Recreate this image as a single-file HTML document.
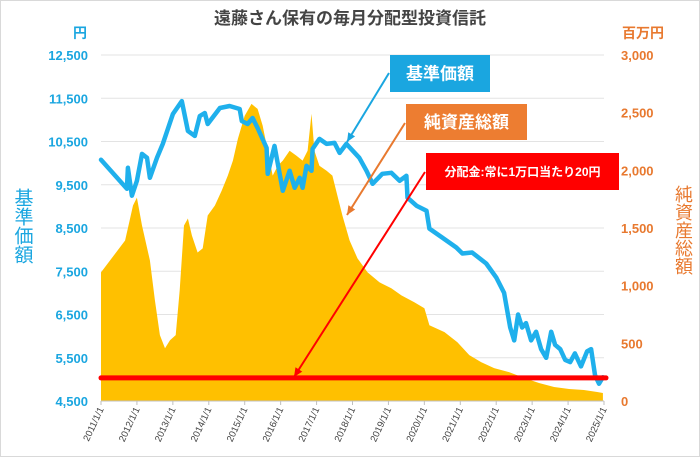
<!DOCTYPE html>
<html><head><meta charset="utf-8">
<style>
html,body{margin:0;padding:0;background:#fff;}
svg{display:block;font-family:"Liberation Sans","Noto Sans CJK JP",sans-serif;}
</style></head>
<body>
<svg id="chart" width="700" height="457" viewBox="0 0 700 457" xmlns="http://www.w3.org/2000/svg">
<rect x="0.5" y="0.5" width="699" height="456" fill="#fff" stroke="#d9d9d9"/>
<text x="350" y="24" text-anchor="middle" font-size="17" font-weight="bold" fill="#444">遠藤さん保有の毎月分配型投資信託</text>
<text x="80" y="38" text-anchor="middle" font-size="14" font-weight="bold" fill="#1aa6e0">円</text>
<text x="643" y="38" text-anchor="middle" font-size="14" font-weight="bold" fill="#e8792f">百万円</text>
<text x="22" y="188" font-size="19" fill="#1aa6e0" style="writing-mode:tb">基準価額</text>
<text x="683" y="185" font-size="18" fill="#e8792f" style="writing-mode:tb">純資産総額</text>
<g id="grid"></g><g id="area"></g><g id="line"></g><g id="axes"></g><g id="annot"></g>
</svg>
<script>
const leftTicks=[4500,5500,6500,7500,8500,9500,10500,11500,12500];
const rightTicks=[0,500,1000,1500,2000,2500,3000];
const years=[2011,2012,2013,2014,2015,2016,2017,2018,2019,2020,2021,2022,2023,2024,2025];
const navT=[2011.0,2011.72,2011.75,2011.86,2012.0,2012.14,2012.28,2012.36,2012.56,2012.72,2013.0,2013.25,2013.42,2013.61,2013.75,2013.89,2013.97,2014.31,2014.58,2014.86,2014.92,2015.08,2015.22,2015.36,2015.61,2015.64,2015.83,2016.06,2016.25,2016.39,2016.53,2016.61,2016.72,2016.86,2016.89,2017.08,2017.28,2017.5,2017.64,2017.83,2018.19,2018.39,2018.56,2018.83,2019.08,2019.31,2019.5,2019.53,2019.78,2020.06,2020.14,2020.5,2020.89,2021.06,2021.33,2021.72,2022.0,2022.22,2022.39,2022.5,2022.61,2022.72,2022.83,2022.97,2023.11,2023.25,2023.39,2023.53,2023.64,2023.78,2023.92,2024.06,2024.19,2024.36,2024.53,2024.64,2024.75,2024.86,2024.97];
const navV=[10076,9407,9891,9246,9592,10214,10122,9661,10122,10444,11135,11435,10744,10629,11089,11159,10905,11274,11320,11251,10974,10905,11043,10813,10352,9753,10398,9361,9822,9430,9661,9430,9937,9822,10329,10560,10444,10467,10237,10444,10122,9822,9523,9753,9776,9592,9707,9200,9016,8900,8486,8279,8048,7910,7933,7680,7357,7000,6200,5900,6500,6200,6300,5900,6100,5700,5500,6100,5800,5700,5450,5400,5600,5300,5650,5700,5100,4900,5050];
const aumT=[2011.0,2011.67,2011.89,2012.0,2012.14,2012.36,2012.5,2012.64,2012.78,2012.92,2013.08,2013.19,2013.31,2013.42,2013.53,2013.69,2013.83,2013.97,2014.17,2014.36,2014.53,2014.67,2014.81,2015.0,2015.19,2015.36,2015.5,2015.64,2015.78,2015.92,2016.06,2016.25,2016.44,2016.61,2016.75,2016.86,2016.94,2017.08,2017.28,2017.44,2017.58,2017.72,2017.92,2018.14,2018.42,2018.75,2019.08,2019.36,2019.72,2020.0,2020.14,2020.56,2020.92,2021.25,2021.58,2021.94,2022.36,2022.78,2023.19,2023.61,2024.03,2024.44,2024.81,2024.97];
const aumV=[1115,1392,1695,1764,1522,1219,873,571,458,527,571,960,1522,1582,1435,1288,1323,1608,1695,1824,1954,2084,2274,2473,2576,2533,2386,2170,1954,2040,2084,2170,2127,2084,2170,2490,2170,2040,1997,1954,1781,1608,1392,1236,1115,1029,977,916,856,804,657,597,510,398,337,285,251,199,156,121,104,95,78,69];
const distLevel=[200];
const NS="http://www.w3.org/2000/svg";
const X0=101,X1=604,Y0=401,Y1=55;
function xs(t){return X0+(t-2011)*(X1-X0)/14;}
function yL(v){return Y0-(v-4500)*(Y0-Y1)/8000;}
function yR(m){return Y0-m*(Y0-Y1)/3000;}
function mk(tag,attrs,parent){const e=document.createElementNS(NS,tag);for(const k in attrs)e.setAttribute(k,attrs[k]);document.getElementById(parent).appendChild(e);return e;}
leftTicks.forEach(v=>{
  const g=mk('line',{x1:X0,x2:X1,y1:yL(v),y2:yL(v),stroke:'#e3e3e3','stroke-width':1},'grid');
  
  
  const t=mk('text',{x:88,y:yL(v)+5,'text-anchor':'end','font-size':13,'font-weight':'bold',fill:'#1aa6e0'},'axes');
  t.textContent=v.toLocaleString('en-US');
  
  
});
rightTicks.forEach(v=>{
  const t=mk('text',{x:621,y:yR(v)+5,'font-size':13,'font-weight':'bold',fill:'#e8792f'},'axes');
  t.textContent=v.toLocaleString('en-US');
  
  
});
years.forEach(y=>{
  const x=xs(y);
  const tk=mk('line',{x1:x,x2:x,y1:Y0,y2:Y0+4,stroke:'#bfbfbf'},'axes');
  
  
  const t=mk('text',{x:x+3,y:Y0+8,'text-anchor':'end','font-size':9.5,fill:'#444',transform:`rotate(-65 ${x+3} ${Y0+8})`},'axes');
  t.textContent=y+'/1/1';
  
  
});
let d='M'+xs(aumT[0])+','+Y0;
aumT.forEach((t,i)=>{d+=' L'+xs(t).toFixed(1)+','+yR(aumV[i]).toFixed(1);});
d+=' L'+xs(aumT[aumT.length-1])+','+Y0+' Z';
const area=mk('path',{d:d,fill:'#ffc000'},'area');


const axl=mk('line',{x1:X0,x2:X1,y1:Y0,y2:Y0,stroke:'#bfbfbf'},'axes');


const pts=navT.map((t,i)=>xs(t).toFixed(1)+','+yL(navV[i]).toFixed(1)).join(' ');
const line=mk('polyline',{points:pts,fill:'none',stroke:'#1fb0ec','stroke-width':4.5,'stroke-linejoin':'round','stroke-linecap':'round'},'line');


const dl=mk('line',{x1:X0,x2:X1+2,y1:yR(distLevel[0]),y2:yR(distLevel[0]),stroke:'#ff0000','stroke-width':5,'stroke-linecap':'round'},'annot');


function arrow(x1,y1,x2,y2,c,name){
  const a=mk('line',{x1:x1,y1:y1,x2:x2,y2:y2,stroke:c,'stroke-width':2},'annot');
  
  
  const ang=Math.atan2(y2-y1,x2-x1),L=9,w=4;
  const bx=x2-L*Math.cos(ang),by=y2-L*Math.sin(ang);
  const p=`${x2},${y2} ${bx+w*Math.sin(ang)},${by-w*Math.cos(ang)} ${bx-w*Math.sin(ang)},${by+w*Math.cos(ang)}`;
  const h=mk('polygon',{points:p,fill:c},'annot');
  
  
}
arrow(389,73,347,142,'#1aa6e0','nav-arrow');
arrow(405,123,347,215,'#e8792f','aum-arrow');
arrow(425,172,294,377,'#ff0000','distribution-arrow');
function box(x,y,w,h,c,txt,fs,name){
  const r=mk('rect',{x:x,y:y,width:w,height:h,fill:c},'annot');
  
  
  const t=mk('text',{x:x+w/2,y:y+h/2+fs*0.36,'text-anchor':'middle','font-size':fs,'font-weight':'bold',fill:'#fff'},'annot');
  t.textContent=txt;
  
  
}
box(390,55,100,37,'#1aa6e0','基準価額',17,'nav-callout');
box(406,104,121,36,'#ed7d31','純資産総額',17,'aum-callout');
box(426,153,193,37,'#ff0000','分配金:常に1万口当たり20円',12,'distribution-callout');
</script>
</body></html>
